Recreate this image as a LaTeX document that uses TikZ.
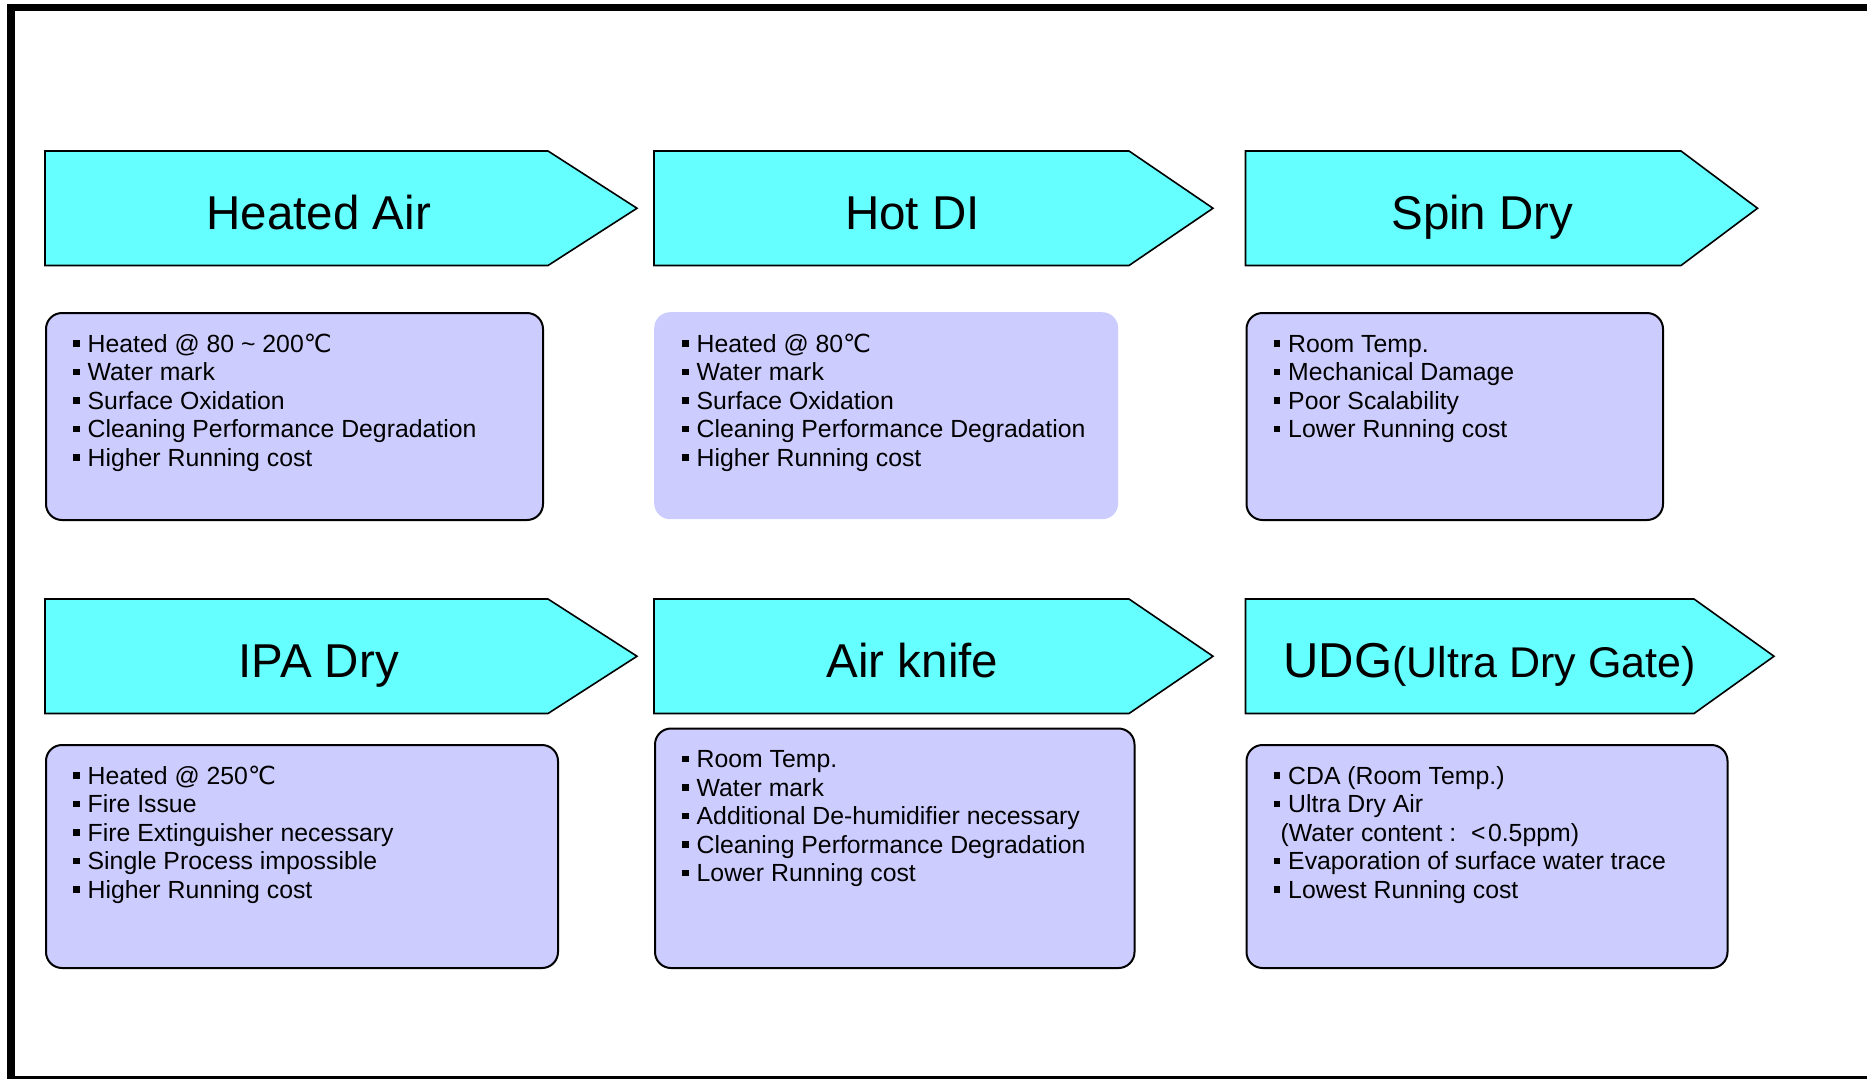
\documentclass[tikz,border=0pt]{standalone}
\usepackage{fontspec}
\setmainfont{Liberation Sans}
\newfontfamily\symfont{DejaVu Sans}

\definecolor{bannercyan}{HTML}{66FFFF}
\definecolor{listlilac}{HTML}{CCCCFF}

% degree Celsius sign and square bullet
\newcommand\degC{{\symfont ℃}}
\newcommand\bul{\rule[5.5bp]{6.5bp}{6.5bp}\hspace{8bp}}

\tikzset{
  bannerline/.style={draw=black, line width=1.6bp, fill=bannercyan, line join=miter},
  bannertext/.style={anchor=base, inner sep=0pt, font=\fontsize{47.5bp}{52bp}\selectfont},
  listbox/.style={draw=black, line width=2bp, fill=listlilac, rounded corners=16bp,
                  anchor=north west, inner sep=0pt},
  plainbox/.style={fill=listlilac, rounded corners=16bp, anchor=north west, inner sep=0pt},
  listtext/.style={anchor=base west, inner sep=0pt, font=\fontsize{24.8bp}{28.6bp}\selectfont},
}

% #1 name, #2 left x, #3 end of body, #4 tip x, #5 top y, #6 bottom y, #7 label
\newcommand\banner[7]{%
  \draw[bannerline] (#2,#5) -- (#3,#5) -- (#4,{(#5+#6)/2}) -- (#3,#6) -- (#2,#6) -- cycle;
  \node[bannertext] (#1) at ({(2*#2+#3+#4)/4},{(#5+#6)/2+21.5}) {#7};
}

\begin{document}
\begin{tikzpicture}[x=1bp,y=-1bp]
\useasboundingbox (0,0) rectangle (1867,1078);
\fill[white] (0,0) rectangle (1867,1078);

% outer frame, its right and bottom sides mostly beyond the page
\draw[line width=7.5bp] (11,7.5) rectangle (1870.5,1080);

% headings, first row
\banner{hHeated}{45}{548}{637}{151}{265.5}{Heated Air}
\banner{hHotDI}{654}{1129}{1213}{151}{265.5}{Hot DI}
\banner{hSpin}{1245.5}{1681}{1757.5}{151}{265.5}{Spin Dry}

% headings, second row
\banner{hIPA}{45}{548}{637}{599}{713.5}{IPA Dry}
\banner{hKnife}{654}{1129}{1213}{599}{713.5}{Air knife}
\banner{hUDG}{1245.5}{1694}{1774}{599}{713.5}{{\fontsize{49bp}{52bp}\selectfont UDG}{\fontsize{43bp}{52bp}\selectfont(Ultra Dry Gate)}}

% feature lists, first row
\node[listbox, minimum width=497bp, minimum height=207bp] (bHeated) at (45,312) {};
\node[listtext] (tHeated) at ([shift={(28,40)}]bHeated.north west) {%
  \begin{tabular}[t]{@{}l@{}}
  \bul Heated @ 80 \textasciitilde{} 200\degC\\
  \bul Water mark\\
  \bul Surface Oxidation\\
  \bul Cleaning Performance Degradation\\
  \bul Higher Running cost
  \end{tabular}};

\node[plainbox, minimum width=464bp, minimum height=207bp] (bHotDI) at (654,312) {};
\node[listtext] (tHotDI) at ([shift={(28,40)}]bHotDI.north west) {%
  \begin{tabular}[t]{@{}l@{}}
  \bul Heated @ 80\degC\\
  \bul Water mark\\
  \bul Surface Oxidation\\
  \bul Cleaning Performance Degradation\\
  \bul Higher Running cost
  \end{tabular}};

\node[listbox, minimum width=416.5bp, minimum height=207bp] (bSpin) at (1245.5,312) {};
\node[listtext] (tSpin) at ([shift={(28,40)}]bSpin.north west) {%
  \begin{tabular}[t]{@{}l@{}}
  \bul Room Temp.\\
  \bul Mechanical Damage\\
  \bul Poor Scalability\\
  \bul Lower Running cost
  \end{tabular}};

% feature lists, second row
\node[listbox, minimum width=512bp, minimum height=223bp] (bIPA) at (45,744) {};
\node[listtext] (tIPA) at ([shift={(28,40)}]bIPA.north west) {%
  \begin{tabular}[t]{@{}l@{}}
  \bul Heated @ 250\degC\\
  \bul Fire Issue\\
  \bul Fire Extinguisher necessary\\
  \bul Single Process impossible\\
  \bul Higher Running cost
  \end{tabular}};

\node[listbox, minimum width=479.5bp, minimum height=239.5bp] (bKnife) at (654,727.5) {};
\node[listtext] (tKnife) at ([shift={(28,40)}]bKnife.north west) {%
  \begin{tabular}[t]{@{}l@{}}
  \bul Room Temp.\\
  \bul Water mark\\
  \bul Additional De-humidifier necessary\\
  \bul Cleaning Performance Degradation\\
  \bul Lower Running cost
  \end{tabular}};

\node[listbox, minimum width=481bp, minimum height=223bp] (bUDG) at (1245.5,744) {};
\node[listtext] (tUDG) at ([shift={(28,40)}]bUDG.north west) {%
  \begin{tabular}[t]{@{}l@{}}
  \bul CDA (Room Temp.)\\
  \bul Ultra Dry Air\\
  \hspace*{7bp}(Water content\ :\hspace{0.6em}<\hspace{0.1em}0.5ppm)\\
  \bul Evaporation of surface water trace\\
  \bul Lowest Running cost
  \end{tabular}};
\end{tikzpicture}
\end{document}
